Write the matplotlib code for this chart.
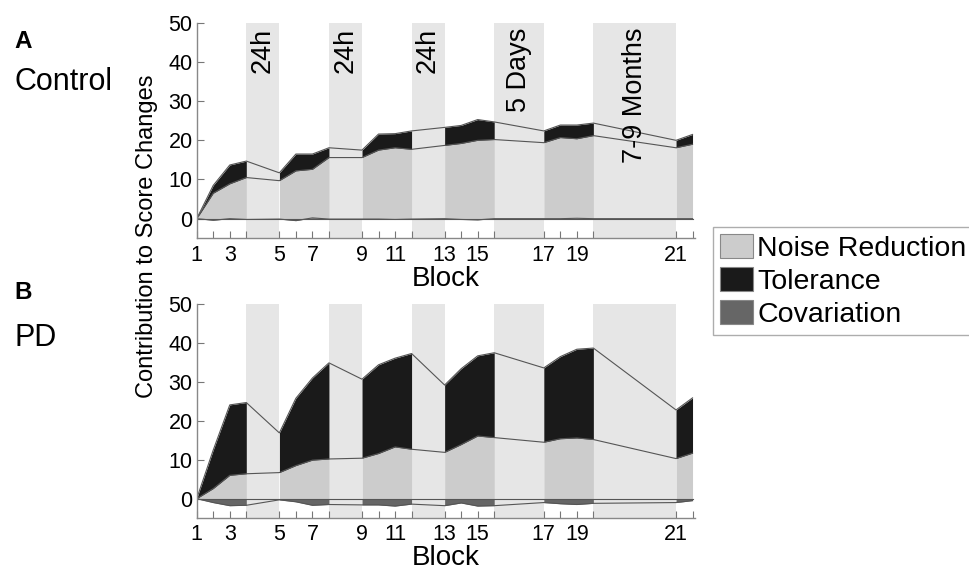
import numpy as np
import matplotlib
matplotlib.use("Agg")
import matplotlib.pyplot as plt
from matplotlib.patches import Patch
from matplotlib.ticker import FixedLocator, NullFormatter

plt.rcParams["font.family"] = ["Liberation Sans", "DejaVu Sans"]

# ── Data ─────────────────────────────────────────────────────────────
BLOCKS = list(range(1, 23))
# extra spacing inserted after these blocks (time between sessions)
BREAK_AFTER = [4, 8, 12, 16, 20]
BREAK_WIDTH = [1, 1, 1, 2, 4]
BREAK_LABELS = ["24h", "24h", "24h", "5 Days", "7-9 Months"]

CTRL_NOISE = [0, 6.5, 8.9, 10.5, 9.7, 12.2, 12.6, 15.6, 15.6, 17.5, 18.1,
              17.7, 18.7, 19.2, 20.0, 20.2, 19.4, 20.7, 20.4, 21.2, 18.1, 19.0]
CTRL_TOTAL = [0, 8.5, 13.7, 14.7, 11.7, 16.5, 16.5, 18.1, 17.5, 21.6, 21.7,
              22.4, 23.3, 23.8, 25.3, 24.7, 22.4, 23.9, 23.9, 24.4, 20.0, 21.5]
CTRL_COV = [0, -0.4, 0.0, -0.2, -0.1, -0.5, 0.2, -0.1, -0.1, -0.1, -0.2,
            -0.1, 0.0, -0.2, -0.3, 0.0, 0.0, 0.0, 0.1, 0.0, 0.0, 0.0]

PD_NOISE = [0, 2.6, 6.0, 6.4, 6.7, 8.5, 9.9, 10.2, 10.4, 11.6, 13.3,
            12.7, 11.9, 13.9, 16.1, 15.7, 14.5, 15.4, 15.6, 15.2, 10.3, 11.7]
PD_TOTAL = [0, 12.5, 24.1, 24.7, 16.9, 25.8, 31.0, 34.9, 30.7, 34.4, 36.1,
            37.3, 29.2, 33.4, 36.7, 37.5, 33.6, 36.5, 38.4, 38.7, 22.8, 25.9]
PD_COV = [0, -1.0, -1.8, -1.7, -0.3, -0.8, -1.7, -1.5, -1.6, -1.6, -1.9,
          -1.4, -1.8, -1.1, -1.9, -1.8, -1.0, -1.3, -1.5, -1.2, -1.0, -0.5]

# ── Style ────────────────────────────────────────────────────────────
C_NOISE = "#cccccc"
C_TOL = "#1a1a1a"
C_COV = "#666666"
C_BAND = "#e6e6e6"
C_EDGE = "#555555"


def block_positions():
    pos = []
    offset = 0
    for b in BLOCKS:
        pos.append(b - 1 + offset)
        if b in BREAK_AFTER:
            offset += BREAK_WIDTH[BREAK_AFTER.index(b)]
    return np.array(pos, dtype=float)


X = block_positions()


def sessions():
    """Index ranges of consecutive blocks within one session."""
    starts = [0] + [BLOCKS.index(b) + 1 for b in BREAK_AFTER]
    ends = [BLOCKS.index(b) for b in BREAK_AFTER] + [len(BLOCKS) - 1]
    return list(zip(starts, ends))


def draw_panel(ax, noise, total, cov, show_labels, label_pad):
    noise, total, cov = map(np.array, (noise, total, cov))

    # shaded breaks between sessions
    for k, b in enumerate(BREAK_AFTER):
        i = BLOCKS.index(b)
        ax.axvspan(X[i], X[i + 1], color=C_BAND, lw=0, zorder=0)
        if show_labels:
            ax.text((X[i] + X[i + 1]) / 2, 48.8, BREAK_LABELS[k], rotation=90,
                    ha="center", va="top", fontsize=19.5, zorder=5)

    for s, e in sessions():
        sl = slice(s, e + 1)
        ax.fill_between(X[sl], 0, noise[sl], color=C_NOISE, lw=0, zorder=1)
        ax.fill_between(X[sl], noise[sl], total[sl], color=C_TOL, lw=0, zorder=1)
        ax.fill_between(X[sl], 0, cov[sl], color=C_COV, lw=0, zorder=1)

    for y in (np.zeros_like(X), noise, total, cov):
        ax.plot(X, y, color=C_EDGE, lw=0.8, zorder=2)

    ax.set_xlim(0, 30.15)
    ax.set_ylim(-5, 50)
    ax.set_yticks([0, 10, 20, 30, 40, 50])
    odd = [i for i, b in enumerate(BLOCKS) if b % 2 == 1]
    even = [i for i, b in enumerate(BLOCKS) if b % 2 == 0]
    ax.set_xticks(X[odd])
    ax.set_xticklabels([str(BLOCKS[i]) for i in odd])
    ax.xaxis.set_minor_locator(FixedLocator(X[even]))
    ax.xaxis.set_minor_formatter(NullFormatter())
    ax.tick_params(which="both", direction="in", length=5, width=0.8,
                   color="#777777", labelsize=15.5)
    ax.tick_params(axis="x", pad=4.5)
    ax.tick_params(axis="y", pad=3)
    for side in ("top", "right"):
        ax.spines[side].set_visible(False)
    for side in ("left", "bottom"):
        ax.spines[side].set_color("#888888")
        ax.spines[side].set_linewidth(1.0)
    ax.set_xlabel("Block", fontsize=20, labelpad=label_pad)


fig = plt.figure(figsize=(9.7, 5.7), dpi=100)
ax_a = fig.add_axes([0.2028, 0.582, 0.5137, 0.378])
ax_b = fig.add_axes([0.2028, 0.091, 0.5137, 0.3755])

draw_panel(ax_a, CTRL_NOISE, CTRL_TOTAL, CTRL_COV, True, 0.5)
draw_panel(ax_b, PD_NOISE, PD_TOTAL, PD_COV, False, -0.5)

fig.text(0.015, 0.927, "A", fontsize=17.5, fontweight="bold", va="center")
fig.text(0.015, 0.857, "Control", fontsize=22, va="center")
fig.text(0.015, 0.487, "B", fontsize=17.5, fontweight="bold", va="center")
fig.text(0.015, 0.407, "PD", fontsize=22, va="center")
fig.text(0.152, 0.585, "Contribution to Score Changes", fontsize=17,
         rotation=90, ha="center", va="center")

handles = [Patch(facecolor=C_NOISE, edgecolor="#888888", lw=0.8),
           Patch(facecolor=C_TOL, edgecolor="#888888", lw=0.8),
           Patch(facecolor=C_COV, edgecolor="#888888", lw=0.8)]
leg = fig.legend(handles, ["Noise Reduction", "Tolerance", "Covariation"],
                 loc="upper left", bbox_to_anchor=(0.735, 0.602),
                 fontsize=20.5, frameon=True, fancybox=False, borderaxespad=0,
                 handlelength=1.15, handleheight=0.92, handletextpad=0.16,
                 labelspacing=0.18, borderpad=0.25)
leg.get_frame().set_edgecolor("#999999")
leg.get_frame().set_linewidth(1.0)

fig.savefig("out.png", dpi=100)
